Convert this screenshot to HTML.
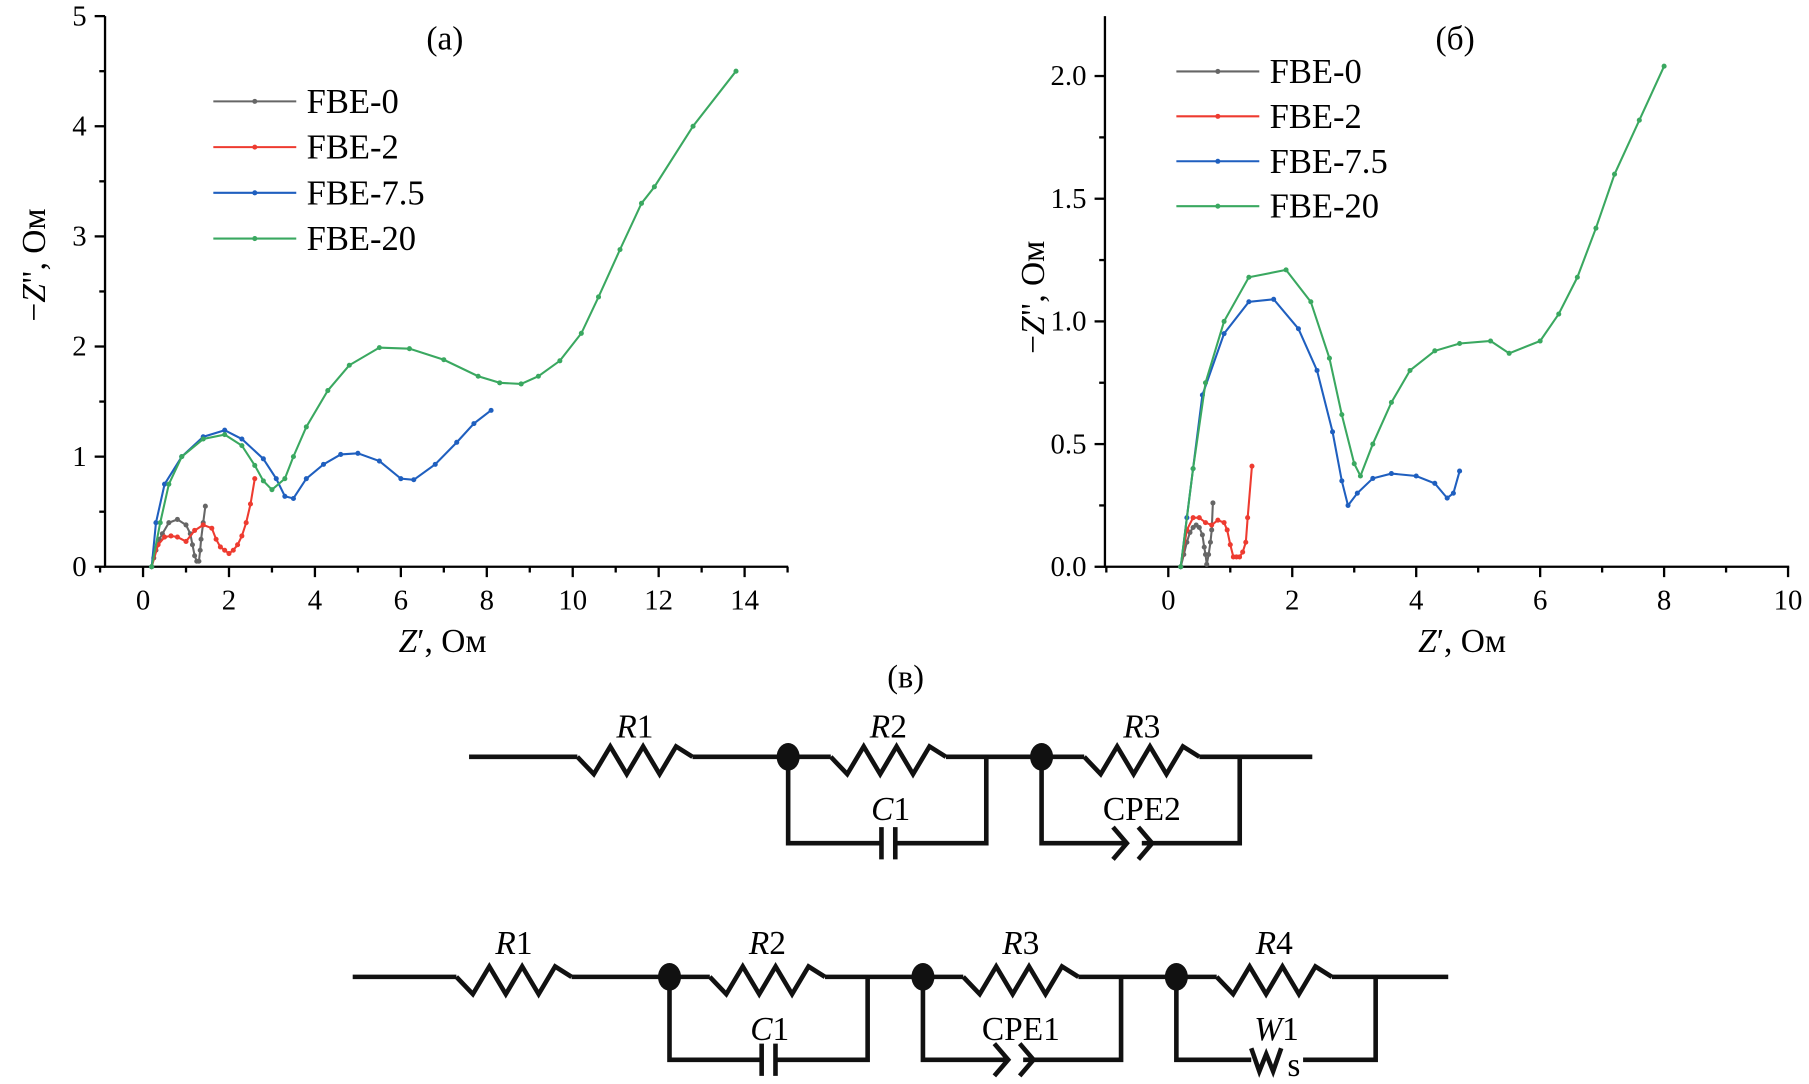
<!DOCTYPE html>
<html><head><meta charset="utf-8"><style>
html,body{margin:0;padding:0;background:#fff;}
svg{display:block;font-family:"Liberation Serif","DejaVu Serif",serif;}
</style></head><body>
<svg id="fig" width="1809" height="1084" viewBox="0 0 1568 941" xmlns="http://www.w3.org/2000/svg">
<g id="panelA"></g>
<g id="panelB"></g>
<text x="785" y="597" font-size="28" text-anchor="middle">(в)</text>
<g id="circ" stroke="#111" stroke-width="4" fill="none"></g>
</svg>
<script>
// ---- data panel (a)
const aZ0x=[0.2,0.25,0.3,0.38,0.45,0.6,0.8,1.0,1.1,1.15,1.2,1.25,1.3,1.33,1.35,1.4,1.45];
const aZ0y=[0,0.08,0.15,0.25,0.3,0.4,0.43,0.38,0.3,0.2,0.1,0.05,0.05,0.15,0.25,0.4,0.55];
const aZ2x=[0.2,0.35,0.5,0.65,0.8,1.0,1.2,1.4,1.6,1.7,1.8,1.9,2.0,2.1,2.2,2.3,2.4,2.5,2.6];
const aZ2y=[0,0.2,0.27,0.28,0.27,0.23,0.33,0.38,0.35,0.25,0.18,0.15,0.12,0.15,0.2,0.28,0.4,0.57,0.8];
const aZ75x=[0.2,0.3,0.5,0.9,1.4,1.9,2.3,2.8,3.1,3.3,3.5,3.8,4.2,4.6,5.0,5.5,6.0,6.3,6.8,7.3,7.7,8.1];
const aZ75y=[0,0.4,0.75,1.0,1.18,1.24,1.16,0.98,0.8,0.64,0.62,0.8,0.93,1.02,1.03,0.96,0.8,0.79,0.93,1.13,1.3,1.42];
const aZ20x=[0.2,0.4,0.6,0.9,1.4,1.9,2.3,2.6,2.8,3.0,3.3,3.5,3.8,4.3,4.8,5.5,6.2,7.0,7.8,8.3,8.8,9.2,9.7,10.2,10.6,11.1,11.6,11.9,12.8,13.8];
const aZ20y=[0,0.4,0.75,1.0,1.16,1.2,1.1,0.92,0.78,0.7,0.8,1.0,1.27,1.6,1.83,1.99,1.98,1.88,1.73,1.67,1.66,1.73,1.87,2.12,2.45,2.88,3.3,3.45,4.0,4.5];
const aXTicks=[0,2,4,6,8,10,12,14];
const aYTicks=[0,1,2,3,4,5];
// ---- data panel (b)
const bZ0x=[0.2,0.25,0.3,0.35,0.4,0.45,0.5,0.55,0.58,0.6,0.62,0.65,0.68,0.7,0.72];
const bZ0y=[0,0.05,0.1,0.14,0.16,0.17,0.16,0.13,0.08,0.05,0.01,0.05,0.1,0.15,0.26];
const bZ2x=[0.2,0.3,0.4,0.5,0.6,0.7,0.8,0.9,0.95,1.0,1.05,1.1,1.15,1.2,1.25,1.28,1.35];
const bZ2y=[0,0.15,0.2,0.2,0.18,0.17,0.19,0.18,0.15,0.09,0.04,0.04,0.04,0.06,0.1,0.2,0.41];
const bZ75x=[0.2,0.3,0.4,0.55,0.9,1.3,1.7,2.1,2.4,2.65,2.8,2.9,3.05,3.3,3.6,4.0,4.3,4.5,4.6,4.7];
const bZ75y=[0,0.2,0.4,0.7,0.95,1.08,1.09,0.97,0.8,0.55,0.35,0.25,0.3,0.36,0.38,0.37,0.34,0.28,0.3,0.39];
const bZ20x=[0.2,0.4,0.6,0.9,1.3,1.9,2.3,2.6,2.8,3.0,3.1,3.3,3.6,3.9,4.3,4.7,5.2,5.5,6.0,6.3,6.6,6.9,7.2,7.6,8.0];
const bZ20y=[0,0.4,0.75,1.0,1.18,1.21,1.08,0.85,0.62,0.42,0.37,0.5,0.67,0.8,0.88,0.91,0.92,0.87,0.92,1.03,1.18,1.38,1.6,1.82,2.04];
const bXTicks=[0,2,4,6,8,10];
const bYTicks=[0,0.5,1.0,1.5,2.0];
const seriesNames=["FBE-0","FBE-2","FBE-7.5","FBE-20"];
const colors=["#666","#ee3b30","#1f5fbf","#3aa860"];

const NS="http://www.w3.org/2000/svg";
function mk(tag,attrs,parent){const e=document.createElementNS(NS,tag);for(const k in attrs)e.setAttribute(k,attrs[k]);parent.appendChild(e);return e;}

function chart(g,cfg){
  const sx=v=>cfg.x0px+(v-0)*cfg.xs, sy=v=>cfg.y0px-v*cfg.ys;
  const ax=mk('path',{d:`M${cfg.left},${cfg.top} V${cfg.y0px} H${cfg.right}`,stroke:'#000','stroke-width':2,fill:'none'},g);
  
  
  cfg.xt.forEach((t,i)=>{
    const x=sx(t);
    mk('line',{x1:x,x2:x,y1:cfg.y0px,y2:cfg.y0px+9,stroke:'#000','stroke-width':2},g);
    if(i<cfg.xt.length-1||cfg.lastMinor){const xm=sx(t+(cfg.xt[1]-cfg.xt[0])/2);mk('line',{x1:xm,x2:xm,y1:cfg.y0px,y2:cfg.y0px+5,stroke:'#000','stroke-width':2},g);}
    const tx=mk('text',{x:x,y:cfg.y0px+37,'font-size':25,'text-anchor':'middle'},g);tx.textContent=cfg.xlab(t);
    
    
  });
  const xm0=sx(-(cfg.xt[1]-cfg.xt[0])/2);mk('line',{x1:xm0,x2:xm0,y1:cfg.y0px,y2:cfg.y0px+5,stroke:'#000','stroke-width':2},g);
  cfg.yt.forEach((t,i)=>{
    const y=sy(t);
    mk('line',{x1:cfg.left,x2:cfg.left-9,y1:y,y2:y,stroke:'#000','stroke-width':2},g);
    const ym=sy(t+(cfg.yt[1]-cfg.yt[0])/2);
    if(ym>=cfg.top-1)mk('line',{x1:cfg.left,x2:cfg.left-5,y1:ym,y2:ym,stroke:'#000','stroke-width':2},g);
    const ty=mk('text',{x:cfg.left-16,y:y+8,'font-size':25,'text-anchor':'end'},g);ty.textContent=cfg.ylab(t);
    
    
  });
  cfg.series.forEach((s,i)=>{
    const pts=s[0].map((v,j)=>sx(v).toFixed(1)+','+sy(s[1][j]).toFixed(1)).join(' ');
    const pl=mk('polyline',{points:pts,fill:'none',stroke:colors[i],'stroke-width':1.8},g);
    
    
    s[0].forEach((v,j)=>{const m=mk('circle',{cx:sx(v),cy:sy(s[1][j]),r:2.2,fill:colors[i]},g);
      
      });
  });
  seriesNames.forEach((n,i)=>{
    const y=cfg.legY+i*cfg.legDy;
    const l=mk('line',{x1:cfg.legX,x2:cfg.legX+72,y1:y,y2:y,stroke:colors[i],'stroke-width':1.8},g);
    
    
    mk('circle',{cx:cfg.legX+36,cy:y,r:2.2,fill:colors[i]},g);
    const t=mk('text',{x:cfg.legX+81,y:y+10,'font-size':30},g);t.textContent=n;
    
    
  });
  const xt=mk('text',{x:cfg.xTitleX,y:cfg.y0px+74,'font-size':29,'text-anchor':'middle'},g);
  xt.innerHTML='<tspan font-style="italic">Z</tspan>′, Ом';
  
  
  const yt=mk('text',{x:0,y:0,'font-size':29,'text-anchor':'middle',transform:`translate(${cfg.yTitleX},${cfg.yTitleY}) rotate(-90)`},g);
  yt.innerHTML='−<tspan font-style="italic">Z</tspan>", Ом';
  
  
  const pt=mk('text',{x:cfg.panelX,y:43,'font-size':29,'text-anchor':'middle'},g);pt.textContent=cfg.panel;
  
  
}
chart(document.getElementById('panelA'),{x0px:123,xs:37.3,y0px:492,ys:95.6,left:90,right:683,top:14,
  xt:aXTicks,yt:aYTicks,xlab:t=>String(t),ylab:t=>String(t),lastMinor:true,
  series:[[aZ0x,aZ0y],[aZ2x,aZ2y],[aZ75x,aZ75y],[aZ20x,aZ20y]],
  legX:184,legY:88,legDy:39.7,xTitleX:383,yTitleX:38,yTitleY:230,panel:'(а)',panelX:385});
chart(document.getElementById('panelB'),{x0px:1013,xs:53.8,y0px:492,ys:213,left:958,right:1552,top:14,
  xt:bXTicks,yt:bYTicks,xlab:t=>String(t),ylab:t=>t.toFixed(1),lastMinor:false,
  series:[[bZ0x,bZ0y],[bZ2x,bZ2y],[bZ75x,bZ75y],[bZ20x,bZ20y]],
  legX:1020,legY:62,legDy:39,xTitleX:1268,yTitleX:905,yTitleY:258,panel:'(б)',panelX:1262});

// ---- circuits
const C=document.getElementById('circ');
function zig(x1,y){const w=100/7;let d=`M${x1},${y}`;const o=[15,-9,15,-9,15,-9,0];for(let i=0;i<7;i++){d+=` L${(x1+w*(i+1)).toFixed(1)},${y+o[i]}`;}return d;}
function res(x1,y,name){const p=mk('path',{d:zig(x1,y)},C);}
function wire(d){mk('path',{d:d},C);}
function node(x,y){const n=mk('ellipse',{cx:x,cy:y,rx:10,ry:12,fill:'#111',stroke:'none'},C);}
function cap(x,y){wire(`M${x-6},${y-14} V${y+14} M${x+6},${y-14} V${y+14}`);}
function cpe(x,y){wire(`M${x-20},${y-14} L${x-8},${y} L${x-20},${y+14} M${x+2},${y-14} L${x+14},${y} L${x+2},${y+14}`);}
function lbl(x,y,html,name){const t=mk('text',{x:x,y:y,'font-size':29,'text-anchor':'middle',stroke:'none',fill:'#000'},C);t.innerHTML=html;}
// circuit 1
let y=657,yb=732;
wire(`M406,${y} H500 M600,${y} H720 M820,${y} H940 M1040,${y} H1138`);
res(500,y,'resistor-r1');res(720,y,'resistor-r2');res(940,y,'resistor-r3');
wire(`M683,${y} V${yb} H764 M776,${yb} H855 V${y}`);cap(770,yb);
wire(`M903,${y} V${yb} H975 M990,${yb} H1075 V${y}`);cpe(985,yb);
node(683,y);node(903,y);
lbl(550,640,'<tspan font-style="italic">R</tspan>1','label-r1');lbl(770,640,'<tspan font-style="italic">R</tspan>2','label-r2');lbl(990,640,'<tspan font-style="italic">R</tspan>3','label-r3');
lbl(772,712,'<tspan font-style="italic">C</tspan>1','label-c1');lbl(990,712,'CPE2','label-cpe2');
// circuit 2
y=848;yb=920;
wire(`M305,${y} H395 M495,${y} H615 M715,${y} H835 M935,${y} H1055 M1155,${y} H1256`);
res(395,y,'resistor-r1b');res(615,y,'resistor-r2b');res(835,y,'resistor-r3b');res(1055,y,'resistor-r4b');
wire(`M580,${y} V${yb} H660 M672,${yb} H752 V${y}`);cap(666,yb);
wire(`M800,${y} V${yb} H872 M887,${yb} H972 V${y}`);cpe(882,yb);
wire(`M1020,${y} V${yb} H1085 M1130,${yb} H1193 V${y}`);
wire(`M1085,${yb-10} L1092,${yb+10} L1098,${yb-5} L1104,${yb+10} L1111,${yb-10}`);
lbl(1122,934,'s','label-ws');
node(580,y);node(800,y);node(1020,y);
lbl(445,828,'<tspan font-style="italic">R</tspan>1','label-r1b');lbl(665,828,'<tspan font-style="italic">R</tspan>2','label-r2b');lbl(885,828,'<tspan font-style="italic">R</tspan>3','label-r3b');lbl(1105,828,'<tspan font-style="italic">R</tspan>4','label-r4b');
lbl(667,903,'<tspan font-style="italic">C</tspan>1','label-c1b');lbl(885,903,'CPE1','label-cpe1');lbl(1107,903,'<tspan font-style="italic">W</tspan>1','label-w1');
</script>
</body></html>
